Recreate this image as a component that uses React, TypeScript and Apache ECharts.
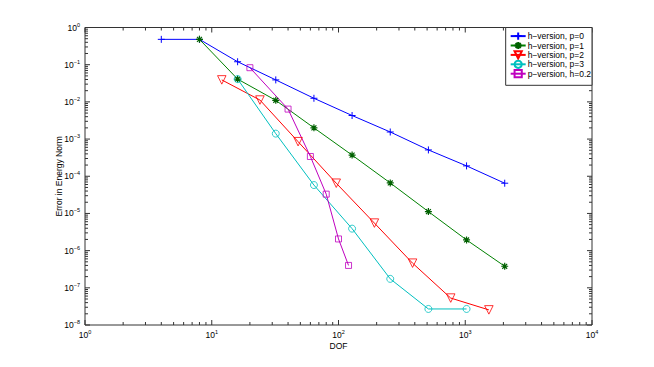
import React, { useEffect, useRef } from "react";
import * as echarts from "echarts";

const seriesNames = [
  "h\u2212version, p=0",
  "h\u2212version, p=1",
  "h\u2212version, p=2",
  "h\u2212version, p=3",
  "p\u2212version, h=0.2",
];
const dofP0 = [4, 8, 16, 32, 64, 128, 256, 512, 1024, 2048];
const errP0 = [0.48, 0.48, 0.12, 0.039, 0.0125, 0.0043, 0.00155, 0.00051, 0.00019, 0.000065];
const dofP1 = [8, 16, 32, 64, 128, 256, 512, 1024, 2048];
const errP1 = [0.48, 0.041, 0.011, 0.002, 0.00037, 0.000066, 0.0000112, 0.00000194, 0.00000038];
const dofP2 = [12, 24, 48, 96, 192, 384, 768, 1536];
const errP2 = [0.039, 0.0112, 0.00085, 0.000065, 0.0000055, 0.00000046, 0.000000053, 0.0000000255];
const dofP3 = [16, 32, 64, 128, 256, 512, 1024];
const errP3 = [0.041, 0.0014, 0.000058, 0.0000039, 0.000000174, 0.000000027, 0.000000027];
const dofPv = [20, 40, 60, 80, 100, 120];
const errPv = [0.083, 0.0064, 0.00034, 0.000033, 0.00000206, 0.0000004];

const xMin = 1;
const xMax = 10000;
const yMin = 1e-8;
const yMax = 1;

const FONT = "Liberation Sans";
const AXIS_COLOR = "#333333";

function pairs(xs: number[], ys: number[]) {
  return xs.map((x, i) => [x, ys[i]]);
}

function logTicks(lo: number, hi: number): number[] {
  const out: number[] = [];
  const e0 = Math.round(Math.log10(lo));
  const e1 = Math.round(Math.log10(hi));
  for (let e = e0; e < e1; e++) {
    for (let m = 1; m <= 9; m++) out.push(m * Math.pow(10, e));
  }
  out.push(Math.pow(10, e1));
  return out;
}

function expLabel(v: number) {
  const e = Math.round(Math.log10(v));
  const s = e < 0 ? "\u2212" + -e : String(e);
  return "{b|10}{s|" + s + "}";
}

const richLabel = {
  b: { fontSize: 8.5, fontFamily: FONT, color: "#000" },
  s: { fontSize: 5.5, fontFamily: FONT, color: "#000", verticalAlign: "top", padding: [0, 0, 6, 0] },
};

export default function App() {
  const ref = useRef<HTMLDivElement>(null);
  useEffect(() => {
    if (!ref.current) return;
    const chart = echarts.init(ref.current, undefined, { renderer: "svg" });

    const tickData: number[][] = [];
    logTicks(xMin, xMax).forEach((v) => tickData.push([v, yMin, 0]));
    logTicks(yMin, yMax).forEach((v) => tickData.push([xMin, v, 1]));

    const isMajor = (v: number) => Math.abs(Math.log10(v) - Math.round(Math.log10(v))) < 1e-9;

    const lineSeries = (
      name: string,
      data: number[][],
      color: string,
      symbol: string,
      size: number,
      extra: any = {}
    ) => ({
      type: "line",
      name,
      data,
      symbol,
      symbolSize: size,
      showAllSymbol: true,
      lineStyle: { color, width: 1 },
      itemStyle: {
        color: extra.fill || color,
        borderColor: extra.borderColor || color,
        borderWidth: extra.bw || 0.8,
      },
      emphasis: { disabled: true },
      z: 3,
      ...extra.opts,
    });

    const NOFILL = "rgba(255,255,255,0)";

    chart.setOption({
      animation: false,
      backgroundColor: "#ffffff",
      grid: {
        left: 85,
        right: 62,
        top: 27.5,
        bottom: 42,
        show: true,
        borderColor: AXIS_COLOR,
        borderWidth: 1,
        backgroundColor: "transparent",
      },
      legend: {
        orient: "vertical",
        right: 62,
        top: 27.5,
        data: seriesNames,
        borderColor: AXIS_COLOR,
        borderWidth: 1,
        backgroundColor: "#ffffff",
        padding: [4, 1, 7, 4],
        itemGap: 0.2,
        itemWidth: 15,
        itemHeight: 9,
        textStyle: { fontSize: 8.5, fontFamily: FONT, color: "#000", padding: [0, 0, 0, -3] },
        z: 10,
      },
      xAxis: {
        type: "log",
        logBase: 10,
        min: xMin,
        max: xMax,
        axisLine: { show: false },
        axisTick: { show: false },
        splitLine: { show: false },
        axisLabel: {
          formatter: expLabel,
          rich: richLabel,
          margin: 4,
          showMinLabel: true,
          showMaxLabel: true,
        },
        name: "DOF",
        nameLocation: "middle",
        nameGap: 16,
        nameMoveOverlap: false,
        nameTextStyle: { fontSize: 8.5, fontFamily: FONT, color: "#000" },
      },
      yAxis: {
        type: "log",
        logBase: 10,
        min: yMin,
        max: yMax,
        axisLine: { show: false },
        axisTick: { show: false },
        splitLine: { show: false },
        axisLabel: {
          formatter: expLabel,
          rich: richLabel,
          margin: 5,
          showMinLabel: true,
          showMaxLabel: true,
        },
        name: "Error in Energy Norm",
        nameLocation: "middle",
        nameGap: 22,
        nameMoveOverlap: false,
        nameTextStyle: { fontSize: 8.5, fontFamily: FONT, color: "#000" },
      },
      series: [
        {
          type: "custom",
          name: "ticks",
          coordinateSystem: "cartesian2d",
          silent: true,
          clip: false,
          z: 1,
          data: tickData,
          encode: { x: 0, y: 1 },
          renderItem: (params: any, api: any) => {
            const a = api.value(0);
            const b = api.value(1);
            const kind = api.value(2);
            const style = { stroke: AXIS_COLOR, lineWidth: 1 };
            if (kind === 0) {
              const len = isMajor(a) ? 5 : 3;
              const pb = api.coord([a, yMin]);
              const pt = api.coord([a, yMax]);
              return {
                type: "group",
                children: [
                  { type: "line", shape: { x1: pb[0], y1: pb[1], x2: pb[0], y2: pb[1] - len }, style },
                  { type: "line", shape: { x1: pt[0], y1: pt[1], x2: pt[0], y2: pt[1] + len }, style },
                ],
              };
            }
            const len = isMajor(b) ? 5 : 3;
            const pl = api.coord([xMin, b]);
            const pr = api.coord([xMax, b]);
            return {
              type: "group",
              children: [
                { type: "line", shape: { x1: pl[0], y1: pl[1], x2: pl[0] + len, y2: pl[1] }, style },
                { type: "line", shape: { x1: pr[0], y1: pr[1], x2: pr[0] - len, y2: pr[1] }, style },
              ],
            };
          },
        },
        lineSeries(seriesNames[0], pairs(dofP0, errP0), "#0000ff", "path://M5,0L5,10M0,5L10,5", 7, { bw: 1 }),
        lineSeries(
          seriesNames[1],
          pairs(dofP1, errP1),
          "#008000",
          "path://M5,0L5,10M0,5L10,5M1.5,1.5L8.5,8.5M8.5,1.5L1.5,8.5",
          7,
          { borderColor: "#006000", bw: 1.2 }
        ),
        lineSeries(seriesNames[2], pairs(dofP2, errP2), "#ff0000", "triangle", 8.5, {
          fill: NOFILL,
          opts: { symbolRotate: 180 },
        }),
        lineSeries(seriesNames[3], pairs(dofP3, errP3), "#00bfbf", "circle", 7, { fill: NOFILL }),
        lineSeries(seriesNames[4], pairs(dofPv, errPv), "#bf00bf", "rect", 6, { fill: NOFILL }),
      ],
    });
    return () => chart.dispose();
  }, []);
  return <div ref={ref} style={{ width: 654, height: 367, position: "absolute", left: 0, top: 0 }} />;
}
